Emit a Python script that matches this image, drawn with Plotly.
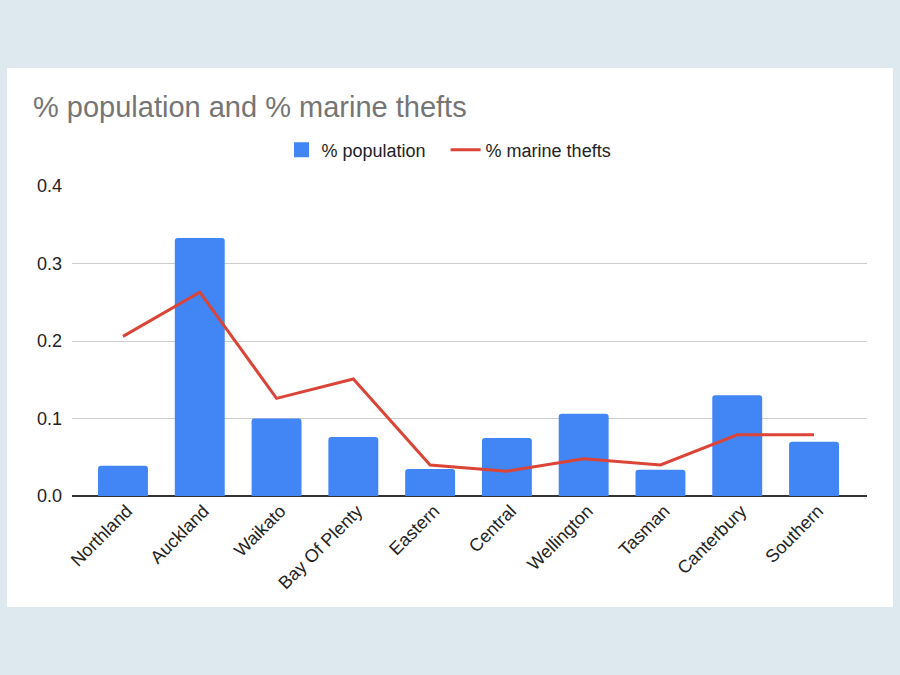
import plotly.graph_objects as go

categories = ["Northland", "Auckland", "Waikato", "Bay Of Plenty", "Eastern",
              "Central", "Wellington", "Tasman", "Canterbury", "Southern"]
pct_population = [0.039, 0.333, 0.100, 0.076, 0.035, 0.075, 0.106, 0.034, 0.130, 0.070]
pct_marine_thefts = [0.206, 0.263, 0.126, 0.151, 0.040, 0.032, 0.048, 0.040, 0.079, 0.079]
y_ticks = [0.0, 0.1, 0.2, 0.3, 0.4]
y_tick_labels = ["0.0", "0.1", "0.2", "0.3", "0.4"]

FONT = "Liberation Sans, Arial, sans-serif"
BLUE = "#4285f4"
RED = "#db4437"

# plot area in pixels
L, R, T, B = 72, 867, 186, 496
W, H = 900, 675
pw, ph = R - L, B - T

def px_x(p):
    return (p - L) / pw

def px_y(p):
    return (B - p) / ph

fig = go.Figure()
fig.add_trace(go.Bar(
    x=list(range(len(categories))), y=pct_population, name="% population",
    marker=dict(color=BLUE, line=dict(width=0)), showlegend=False,
))
# legend-only marker for the bar series (square swatch)
fig.add_trace(go.Scatter(
    x=[None], y=[None], name="% population\u00a0\u00a0\u00a0", mode="markers",
    marker=dict(symbol="square", size=15, color=BLUE), showlegend=True,
))
fig.add_trace(go.Scatter(
    x=list(range(len(categories))), y=pct_marine_thefts, name="% marine thefts",
    mode="lines", line=dict(color=RED, width=3),
))

fig.add_shape(type="rect", xref="paper", yref="paper",
              x0=px_x(7), x1=px_x(893), y0=px_y(607), y1=px_y(68),
              fillcolor="white", line=dict(width=0), layer="below")

fig.update_layout(
    width=W, height=H,
    margin=dict(l=L, r=W - R, t=T, b=H - B, pad=0),
    paper_bgcolor="#dde8ef",
    plot_bgcolor="rgba(0,0,0,0)",
    bargap=0.35,
    barcornerradius=3,
    font=dict(family=FONT, color="#222222", size=18),
    title=dict(text="% population and % marine thefts", xref="container", x=33 / W,
               xanchor="left", y=1 - 107 / H, yanchor="middle",
               font=dict(size=29, color="#757575", family=FONT)),
    legend=dict(orientation="h", x=px_x(449), xanchor="center", y=px_y(150),
                yanchor="middle", font=dict(size=18, color="#222222"),
                bgcolor="rgba(0,0,0,0)", itemwidth=30, itemsizing="trace"),
    showlegend=True,
)

fig.update_xaxes(
    tickmode="array", tickvals=list(range(len(categories))), ticktext=categories,
    range=[-0.664, 9.69], tickangle=-45, showgrid=False, zeroline=False,
    showline=False, ticks="", tickfont=dict(size=18, color="#222222"),
    ticklabelshift=4,
)
fig.update_yaxes(
    range=[0, 0.4], tickmode="array", tickvals=y_ticks, ticktext=y_tick_labels,
    showgrid=True, gridcolor="#cccccc", gridwidth=1,
    zeroline=True, zerolinecolor="#333333", zerolinewidth=2,
    showline=False, ticks="", ticklabelstandoff=9,
    tickfont=dict(size=18, color="#222222"),
)

fig.write_html("out.html")
